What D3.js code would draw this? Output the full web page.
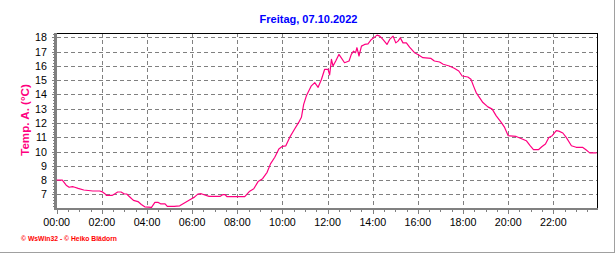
<!DOCTYPE html>
<html>
<head>
<meta charset="utf-8">
<script src="https://cdn.jsdelivr.net/npm/d3@7"></script>
<style>
  body { margin: 0; background: #fff; }
  svg { display: block; font-family: "Liberation Sans", Arial, sans-serif; }
</style>
</head>
<body>
<div id="chart"></div>
<script>
// readings, decimal hours of the day
const hours = [0.00, 0.25, 0.42, 0.55, 0.70, 0.80, 0.95, 1.20, 1.60, 1.90, 2.00, 2.15, 2.20, 2.45, 2.60,
  2.70, 2.85, 3.00, 3.10, 3.25, 3.40, 3.60, 3.75, 3.90, 4.20, 4.35, 4.50, 4.60, 4.80, 4.90, 5.20, 5.45,
  5.90, 6.10, 6.25, 6.40, 6.75, 7.23, 7.35, 7.46, 7.55, 8.33, 8.55, 8.73, 8.92, 9.12, 9.32, 9.47, 9.66,
  9.84, 10.00, 10.15, 10.32, 10.54, 10.72, 10.84, 10.94, 11.06, 11.28, 11.43, 11.58, 11.73, 11.87, 12.02,
  12.09, 12.17, 12.24, 12.36, 12.50, 12.60, 12.75, 12.95, 13.05, 13.15, 13.24, 13.30, 13.39, 13.50, 13.64,
  13.79, 13.94, 14.08, 14.19, 14.31, 14.45, 14.63, 14.75, 14.90, 15.02, 15.12, 15.22, 15.34, 15.49, 15.63,
  15.85, 16.00, 16.22, 16.58, 16.73, 16.96, 17.12, 17.39, 17.61, 17.81, 17.96, 18.21, 18.35, 18.46, 18.58,
  18.73, 18.88, 19.10, 19.29, 19.47, 19.69, 19.84, 20.00, 20.35, 20.62, 20.80, 20.97, 21.12, 21.35, 21.50,
  21.65, 21.80, 21.95, 22.13, 22.24, 22.42, 22.57, 22.80, 23.01, 23.29, 23.43, 23.61, 23.92];

const temps = [8.0, 8.0, 7.65, 7.5, 7.55, 7.5, 7.42, 7.31, 7.24, 7.24, 7.2, 7.03, 6.93, 6.93, 7.07,
  7.17, 7.17, 7.03, 7.03, 6.8, 6.58, 6.5, 6.3, 6.13, 6.1, 6.44, 6.44, 6.34, 6.34, 6.16, 6.16, 6.2,
  6.63, 6.81, 7.02, 7.05, 6.86, 6.86, 6.98, 6.98, 6.84, 6.84, 7.23, 7.4, 7.9, 8.1, 8.55, 9.14, 9.6,
  10.18, 10.37, 10.4, 10.99, 11.58, 12.04, 12.4, 13.3, 13.9, 14.6, 14.83, 14.5, 15.06, 15.76, 15.76,
  15.36, 16.45, 15.99, 16.34, 16.8, 16.57, 16.22, 16.34, 16.8, 17.03, 16.92, 17.27, 16.69, 17.38, 17.5,
  17.54, 17.85, 18.01, 18.15, 18.08, 17.85, 17.5, 17.85, 18.08, 17.61, 17.73, 17.96, 17.61, 17.61, 17.31,
  16.92, 16.8, 16.57, 16.52, 16.34, 16.27, 16.11, 15.99, 15.83, 15.64, 15.29, 15.22, 15.06, 14.6, 14.13,
  13.78, 13.43, 13.13, 12.97, 12.5, 12.04, 11.69, 11.11, 11.06, 10.88, 10.76, 10.41, 10.14, 10.14, 10.35,
  10.53, 10.99, 11.11, 11.46, 11.43, 11.3, 10.99, 10.41, 10.3, 10.3, 10.14, 9.91, 9.91];

const xTickHours = [0, 2, 4, 6, 8, 10, 12, 14, 16, 18, 20, 22];
const xTickLabels = ["00:00", "02:00", "04:00", "06:00", "08:00", "10:00", "12:00", "14:00", "16:00", "18:00", "20:00", "22:00"];
const yTicks = [7, 8, 9, 10, 11, 12, 13, 14, 15, 16, 17, 18];

const title = "Freitag, 07.10.2022";
const yTitle = "Temp. A. (°C)";
const credit = "© WsWin32 - © Heiko Blädorn";

const width = 616, height = 253;
const plotLeft = 56.7, plotRight = 596.7, plotTop = 33, plotBottom = 208;
const lineColor = "#ff0080";

const svg = d3.select("#chart").append("svg")
  .attr("width", width)
  .attr("height", height);

svg.append("rect").attr("width", width).attr("height", height).attr("fill", "#fff");

const x = d3.scaleLinear().domain([0, 23.92]).range([plotLeft, plotRight]);
const y = d3.scaleLinear().domain([6.05, 18.3]).range([plotBottom, plotTop]);

// grid
const grid = svg.append("g")
  .attr("stroke", "#808080")
  .attr("stroke-dasharray", "4,3")
  .attr("shape-rendering", "crispEdges");

grid.selectAll("line.h").data(yTicks).join("line")
  .attr("class", "h")
  .attr("x1", plotLeft).attr("x2", plotRight)
  .attr("y1", d => Math.round(y(d)) + 0.5)
  .attr("y2", d => Math.round(y(d)) + 0.5);

grid.selectAll("line.v").data(xTickHours.filter(d => d > 0)).join("line")
  .attr("class", "v")
  .attr("y1", plotTop).attr("y2", plotBottom)
  .attr("x1", d => Math.round(x(d)) + 0.5)
  .attr("x2", d => Math.round(x(d)) + 0.5);

// frame top and right
svg.append("path")
  .attr("d", `M${plotLeft - 1},${plotTop + 0.5}H${plotRight + 0.5}V${plotBottom}`)
  .attr("fill", "none")
  .attr("stroke", "#000")
  .attr("shape-rendering", "crispEdges");

// y axis (left, gray with minor ticks)
const yAxis = svg.append("g").attr("shape-rendering", "crispEdges");
yAxis.append("line")
  .attr("x1", plotLeft - 1).attr("x2", plotLeft - 1)
  .attr("y1", plotTop).attr("y2", plotBottom + 2)
  .attr("stroke", "#808080").attr("stroke-width", 2.5);

const yMinor = d3.range(62, 184, 2).map(d => d / 10);
yAxis.selectAll("line.minor").data(yMinor).join("line")
  .attr("class", "minor")
  .attr("x1", plotLeft - 4).attr("x2", plotLeft - 1)
  .attr("y1", d => Math.round(y(d)) + 0.5)
  .attr("y2", d => Math.round(y(d)) + 0.5)
  .attr("stroke", "#808080");

yAxis.selectAll("line.major").data(yTicks).join("line")
  .attr("class", "major")
  .attr("x1", plotLeft - 5).attr("x2", plotLeft - 1)
  .attr("y1", d => Math.round(y(d)) + 0.5)
  .attr("y2", d => Math.round(y(d)) + 0.5)
  .attr("stroke", "#808080");

yAxis.selectAll("text").data(yTicks).join("text")
  .attr("x", 47)
  .attr("y", d => y(d) + 4)
  .attr("text-anchor", "end")
  .attr("font-size", "10.7px")
  .attr("fill", "#000")
  .text(d => d);

// x axis (bottom, gray)
const xAxis = svg.append("g").attr("shape-rendering", "crispEdges");
xAxis.append("line")
  .attr("x1", plotLeft - 2).attr("x2", plotRight + 1)
  .attr("y1", plotBottom + 1).attr("y2", plotBottom + 1)
  .attr("stroke", "#808080").attr("stroke-width", 2);

const xMinor = d3.range(0, 48).map(d => d / 2);
xAxis.selectAll("line.tick").data(xMinor).join("line")
  .attr("class", "tick")
  .attr("x1", d => Math.round(x(d)) + 0.5)
  .attr("x2", d => Math.round(x(d)) + 0.5)
  .attr("y1", plotBottom + 1)
  .attr("y2", d => plotBottom + (d % 2 === 0 ? 6 : 4))
  .attr("stroke", "#808080");

xAxis.selectAll("text").data(xTickHours).join("text")
  .attr("x", d => x(d))
  .attr("y", 226)
  .attr("text-anchor", "middle")
  .attr("font-size", "10.7px")
  .attr("fill", "#000")
  .text((d, i) => xTickLabels[i]);

// temperature line
const line = d3.line()
  .x((d, i) => x(hours[i]))
  .y(d => y(d));

svg.append("path")
  .datum(temps)
  .attr("d", line)
  .attr("fill", "none")
  .attr("stroke", lineColor)
  .attr("stroke-width", 1.2)
  .attr("stroke-linejoin", "round");

// titles
svg.append("text")
  .attr("x", 308.5)
  .attr("y", 22.5)
  .attr("text-anchor", "middle")
  .attr("font-size", "11px")
  .attr("font-weight", "bold")
  .attr("fill", "#0000ff")
  .text(title);

svg.append("text")
  .attr("transform", "translate(29,120) rotate(-90)")
  .attr("text-anchor", "middle")
  .attr("font-size", "11.6px")
  .attr("font-weight", "bold")
  .attr("fill", lineColor)
  .text(yTitle);

svg.append("text")
  .attr("x", 21)
  .attr("y", 240.5)
  .attr("font-size", "7px")
  .attr("font-weight", "bold")
  .attr("fill", "#ff0000")
  .attr("textLength", 96)
  .attr("lengthAdjust", "spacingAndGlyphs")
  .text(credit);

// outer window border (right, bottom)
svg.append("path")
  .attr("d", `M${width - 1.5},0V${height - 0.5}H0`)
  .attr("fill", "none")
  .attr("stroke", "#a0a0a0")
  .attr("shape-rendering", "crispEdges");
</script>
</body>
</html>
